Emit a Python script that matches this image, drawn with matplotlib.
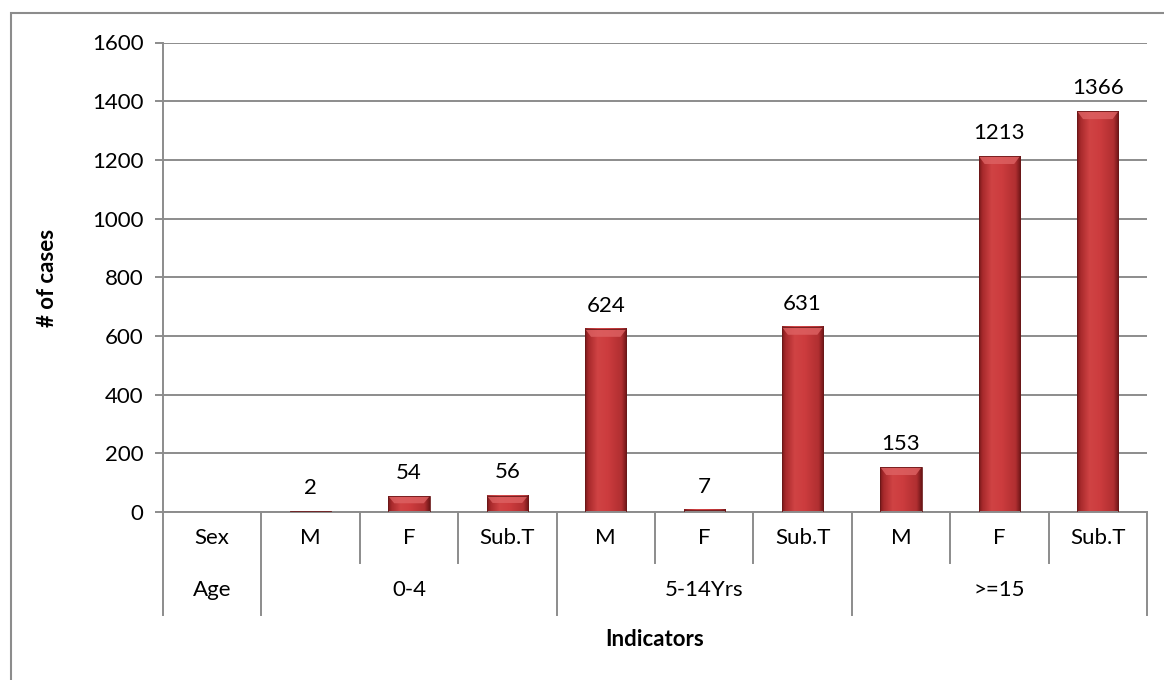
import numpy as np
import matplotlib.pyplot as plt
from matplotlib.colors import LinearSegmentedColormap
from matplotlib.patches import Polygon, Rectangle
from matplotlib.transforms import blended_transform_factory

plt.rcParams['font.family'] = ['Lato', 'DejaVu Sans']

sex = ['Sex', 'M', 'F', 'Sub.T', 'M', 'F', 'Sub.T', 'M', 'F', 'Sub.T']
age_groups = ['Age', '0-4', '5-14Yrs', '>=15']
age_span = [1, 3, 3, 3]
cases = [None, 2, 54, 56, 624, 7, 631, 153, 1213, 1366]

fs = 16
fig = plt.figure(figsize=(11.64, 6.8), dpi=100)
ax = fig.add_axes([163 / 1164, 1 - 512 / 680, (1147 - 163) / 1164, (512 - 42.5) / 680])

grey = '#8c8c8c'
# outer chart frame
fig.patches.append(Rectangle((11 / 1164, -0.1), 1.2, 1 - 13 / 680 + 0.1,
                             transform=fig.transFigure, fill=False,
                             edgecolor=grey, linewidth=1.5, zorder=0))

ax.set_xlim(0, len(sex))
ax.set_ylim(0, 1600)
ax.set_yticks(np.arange(0, 1601, 200))
ax.grid(axis='y', color=grey, linewidth=1.4)
ax.set_axisbelow(True)
for s in ['top', 'right', 'bottom']:
    ax.spines[s].set_visible(False)
ax.spines['left'].set_color(grey)
ax.spines['left'].set_linewidth(1.4)
ax.tick_params(axis='y', length=6, width=1.4, color=grey, labelsize=fs, pad=8)
ax.tick_params(axis='x', length=0, labelbottom=False)

cmap = LinearSegmentedColormap.from_list('bar', [
    (0.0, '#7a1a1b'), (0.08, '#a82a2c'), (0.3, '#d04344'),
    (0.55, '#cc3c3e'), (0.88, '#b02f31'), (1.0, '#6e1617')])
grad = np.linspace(0, 1, 64).reshape(1, -1)

w = 0.42
for i, v in enumerate(cases):
    if v is None:
        continue
    x0, x1 = i + 0.5 - w / 2, i + 0.5 + w / 2
    ax.imshow(grad, cmap=cmap, extent=(x0, x1, 0, v), aspect='auto', zorder=2)
    bh = min(27, v * 0.45)
    bw = 0.06
    ax.add_patch(Polygon([(x0, v), (x1, v), (x1 - bw, v - bh), (x0 + bw, v - bh)],
                         closed=True, facecolor='#de6263', edgecolor='none',
                         alpha=0.8, zorder=3))
    ax.add_patch(Rectangle((x0, 0), w, v, fill=False, edgecolor='#6a1718',
                           linewidth=0.6, zorder=3))
    ax.text(i + 0.5, v + 45, str(v), ha='center', va='bottom', fontsize=fs)
ax.set_xlim(0, len(sex))
ax.set_ylim(0, 1600)

# category table under the axis
tr = blended_transform_factory(ax.transData, fig.transFigure)
py = lambda p: 1 - p / 680
ax.plot([0, len(sex)], [py(512), py(512)], color=grey, lw=1.4, transform=tr, clip_on=False)
starts = np.cumsum([0] + age_span)
for b in range(len(sex) + 1):
    bottom = 615 if b in starts else 563
    ax.plot([b, b], [py(512), py(bottom)], color=grey, lw=1.4,
            transform=tr, clip_on=False)
for i, s in enumerate(sex):
    ax.text(i + 0.5, py(538), s, ha='center', va='center', fontsize=fs, transform=tr)
for g, a, n in zip(age_groups, starts[:-1], age_span):
    ax.text(a + n / 2, py(590), g, ha='center', va='center', fontsize=fs, transform=tr)

ax.text(len(sex) / 2, py(640), 'Indicators', ha='center', va='center',
        fontsize=fs, fontweight='bold', transform=tr)
fig.text(48 / 1164, py(278), '# of cases', rotation=90, ha='center', va='center',
         fontsize=fs, fontweight='bold')

fig.savefig('out.png', dpi=100)
